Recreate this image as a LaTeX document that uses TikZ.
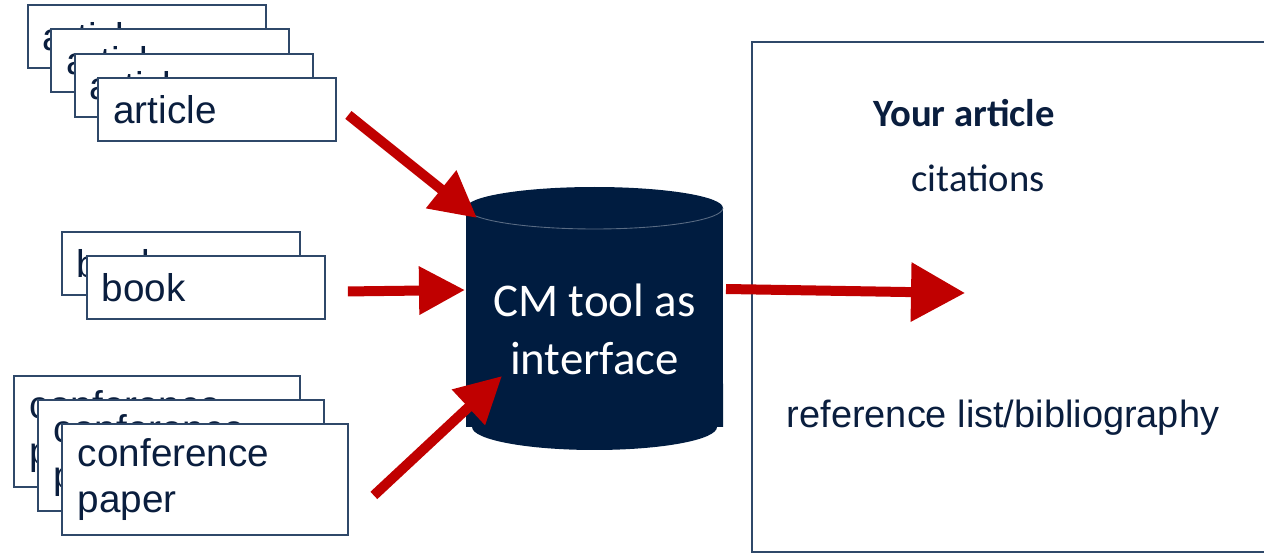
\documentclass[tikz,border=0pt]{standalone}
\usepackage{fontspec}
\setmainfont{Liberation Sans}
\newfontfamily\carlito{Carlito}
\usetikzlibrary{arrows.meta, positioning}

\definecolor{boxline}{RGB}{47,72,105}
\definecolor{inktext}{RGB}{10,30,62}
\definecolor{cmnavy}{RGB}{0,28,64}
\definecolor{flowred}{RGB}{192,0,0}

\begin{document}
\begin{tikzpicture}[x=0.02cm, y=-0.02cm]
        % Styles
        \tikzstyle{docbox} = [draw=boxline, line width=1.1pt, fill=white, anchor=north west,
                              minimum height=1.26cm, text width=4.16cm, inner xsep=0.3cm, inner ysep=0pt,
                              align=left, text=inktext, font=\fontsize{22}{26}\selectfont]
        \tikzstyle{confbox} = [docbox, minimum height=2.22cm, text width=5.08cm, inner xsep=0.32cm]
        \tikzstyle{bigarrow} = [flowred, line width=0.2cm, -{Triangle[length=0.92cm, width=0.92cm]}]

        \useasboundingbox (0,0) rectangle (1264,553);
        \clip (0,0) rectangle (1264,553);

        % Stack of articles - each one shifted down and right of the one behind
        \node[docbox] (art1) at (27,4) {article};
        \node[docbox] (art2) at ([xshift=0.47cm, yshift=-0.49cm]art1.north west) {article};
        \node[docbox] (art3) at ([xshift=0.47cm, yshift=-0.49cm]art2.north west) {article};
        \node[docbox] (art4) at ([xshift=0.47cm, yshift=-0.49cm]art3.north west) {article};

        % Stack of books
        \node[docbox] (bk1) at (61,231) {book};
        \node[docbox] (bk2) at ([xshift=0.5cm, yshift=-0.48cm]bk1.north west) {book};

        % Stack of conference papers
        \node[confbox] (conf1) at (13,375) {conference\\paper};
        \node[confbox] (conf2) at ([xshift=0.48cm, yshift=-0.48cm]conf1.north west) {conference\\paper};
        \node[confbox] (conf3) at ([xshift=0.48cm, yshift=-0.48cm]conf2.north west) {conference\\paper};

        % CM tool - database drum drawn directly, label on top
        \fill[cmnavy] (466,208) arc[start angle=180, end angle=0, x radius=2.57cm, y radius=0.42cm]
              -- (723,427) -- (717,427) arc[start angle=0, end angle=-180, x radius=2.45cm, y radius=0.46cm]
              -- (466,427) -- cycle;
        \draw[white!35!cmnavy, line width=0.5pt] (466,208)
              arc[start angle=180, end angle=360, x radius=2.57cm, y radius=0.42cm];
        \node[text=white, align=center, font=\carlito\fontsize{26.7}{33}\selectfont] (cm)
              at (594.5,329.5) {CM tool as\\interface};

        % Your article - frame runs off the page at the right
        \node[draw=boxline, line width=1.1pt, anchor=north west, minimum width=10.6cm,
              minimum height=10.2cm] (yours) at (751,41) {};
        \node[anchor=base, text=inktext, font=\carlito\bfseries\fontsize{22}{26}\selectfont] (title) at (964,127) {Your article};
        \node[anchor=base, text=inktext, font=\carlito\fontsize{22}{26}\selectfont] (cites) at (978,192) {citations};
        \node[anchor=base, text=inktext, font=\fontsize{21.6}{26}\selectfont] (reflist) at (1003,428) {reference list/bibliography};
        \coordinate (cmout) at (965,293);

        % Sources into the CM tool
        \draw[bigarrow] ([shift={(11,5)}]art4.east) -- ([shift={(-117.5,-111.5)}]cm.center);
        \draw[bigarrow] ([shift={(22,4)}]bk2.east) -- ([shift={(-129.5,-39.5)}]cm.center);
        \draw[bigarrow] ([shift={(25,16)}]conf3.east) -- ([shift={(-92.5,46.5)}]cm.center);

        % CM tool out to your article
        \draw[bigarrow, -{Triangle[length=1.08cm, width=1.14cm]}] ([shift={(131.5,-40.5)}]cm.center) -- (cmout);
\end{tikzpicture}
\end{document}
